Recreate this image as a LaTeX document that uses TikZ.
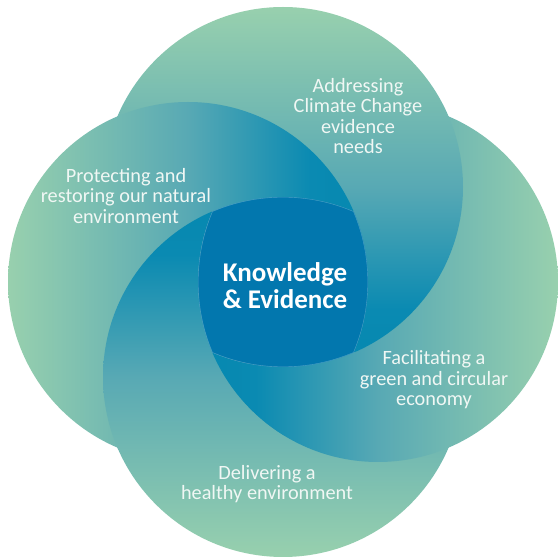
\documentclass[tikz,border=0pt]{standalone}
\usepackage{fontspec}
\setmainfont{Carlito}
\definecolor{cgreen}{HTML}{98D0AE}
\definecolor{cmid}{HTML}{58A9B4}
\definecolor{cdark}{HTML}{0A8AB2}
\definecolor{cdeep}{HTML}{0588B0}
\definecolor{csq}{HTML}{0277AE}
\definecolor{ctext}{HTML}{F0F7F4}
\pgfdeclarehorizontalshading{petal}{100bp}{color(0bp)=(cgreen); color(25bp)=(cgreen); color(50bp)=(cmid); color(67bp)=(cdark); color(75bp)=(cdeep); color(100bp)=(cdeep)}
\begin{document}
\begin{tikzpicture}[x=1pt,y=1pt,
  petalL/.style={shading=petal, shading angle=0},
  petalR/.style={shading=petal, shading angle=180},
  petalT/.style={shading=petal, shading angle=270},
  petalB/.style={shading=petal, shading angle=90},
  lbl/.style={text=ctext, align=center, font=\fontsize{20.3}{20.5}\selectfont},
  core/.style={text=white, align=center, font=\fontsize{27}{27}\selectfont\bfseries}]
\useasboundingbox (0,0) rectangle (558,557);
\def\R{180pt}
\coordinate (cT) at (283,370);
\coordinate (cL) at (188,275);
\coordinate (cR) at (378,275);
\coordinate (cB) at (283,180);
% base layers
\shade[petalB] (cB) circle[radius=\R];
\shade[petalR] (cR) circle[radius=\R];
\shade[petalT] (cT) circle[radius=\R];
\shade[petalL] (cL) circle[radius=\R];
% bottom over left (outside the right circle)
\begin{scope}
  \clip (cL) circle[radius=181.5pt];
  \clip (-10,-10) -- (570,-10) -- (570,570) -- (-10,570) -- cycle
        (cR) ++(180pt,0) arc[start angle=0, end angle=-360, radius=180pt];
  \shade[petalB] (cB) circle[radius=\R];
\end{scope}
% right over bottom within left (outside the top circle)
\begin{scope}
  \clip (cL) circle[radius=181.5pt];
  \clip (cB) circle[radius=\R];
  \clip (-10,-10) -- (570,-10) -- (570,570) -- (-10,570) -- cycle
        (cT) ++(180pt,0) arc[start angle=0, end angle=-360, radius=180pt];
  \shade[petalR] (cR) circle[radius=\R];
\end{scope}
% central square
\begin{scope}
  \clip (cL) circle[radius=\R];
  \clip (cB) circle[radius=\R];
  \clip (cR) circle[radius=\R];
  \clip (cT) circle[radius=\R];
  \fill[csq] (0,0) rectangle (558,557);
  \draw[white, opacity=0.3, line width=0.8pt] (cL) circle[radius=\R] (cR) circle[radius=\R] (cT) circle[radius=\R] (cB) circle[radius=\R];
\end{scope}
% texts
\node[lbl] (climate) at (358,441) {Addressing\\Climate Change\\evidence\\needs};
\node[lbl] (nature) at (126,361) {Protecting and\\restoring our natural\\environment};
\node[core] (ke) at (285,271) {Knowledge\\\& Evidence};
\node[lbl] (green) at (434,177) {Facilitating a\\green and circular\\economy};
\node[lbl] (health) at (267,73) {Delivering a\\healthy environment};
\end{tikzpicture}
\end{document}
